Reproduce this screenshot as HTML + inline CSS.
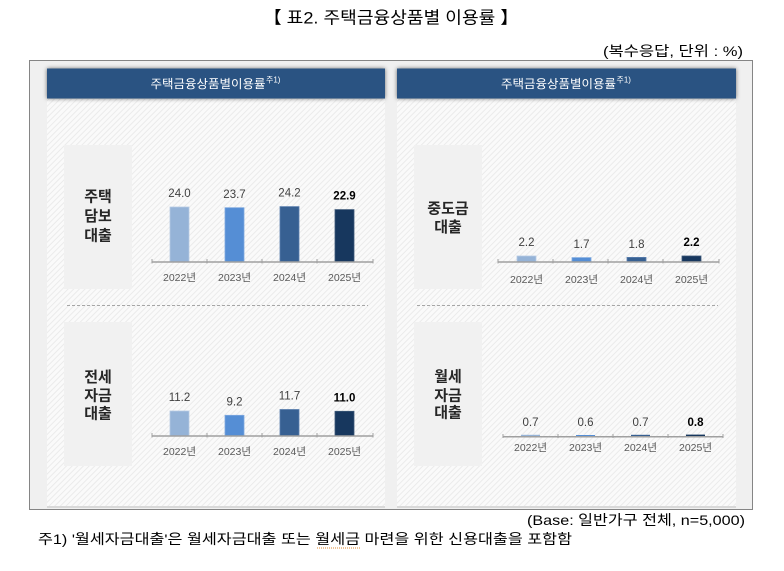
<!DOCTYPE html>
<html><head><meta charset="utf-8">
<style>
html,body{margin:0;padding:0;background:#fff;}
svg{display:block;}
text{font-family:"Liberation Sans","Noto Sans CJK KR",sans-serif;}
</style></head>
<body>
<svg width="784" height="571" viewBox="0 0 784 571" xmlns="http://www.w3.org/2000/svg">
<defs>
 <pattern id="h" width="4" height="4" patternUnits="userSpaceOnUse" patternTransform="rotate(45)">
  <rect width="4" height="4" fill="#fafafa"/>
  <line x1="0.5" y1="0" x2="0.5" y2="4" stroke="#ebebeb" stroke-width="1"/>
 </pattern>
 <filter id="sh" x="-5%" y="-40%" width="110%" height="180%">
  <feDropShadow dx="0" dy="0" stdDeviation="2" flood-color="#000" flood-opacity="0.55"/>
 </filter>
</defs>
<rect width="784" height="571" fill="#fff"/>

<!-- title -->
<text x="391" y="18" font-size="17" text-anchor="middle" dominant-baseline="central" fill="#000" textLength="255" lengthAdjust="spacingAndGlyphs">【 표2. 주택금융상품별 이용률 】</text>
<text x="743" y="51" font-size="14" text-anchor="end" dominant-baseline="central" fill="#000" textLength="140" lengthAdjust="spacingAndGlyphs">(복수응답, 단위 : %)</text>

<!-- outer box -->
<rect x="29.5" y="60.5" width="723" height="449" fill="#f0f0f0" stroke="#858585" stroke-width="1"/>

<!-- left panel -->
<rect x="47" y="99" width="338" height="407" fill="url(#h)"/>
<rect x="47" y="506" width="338" height="2" fill="#d9d9d9"/>
<rect x="47" y="68.5" width="338" height="30" fill="#2c5282" filter="url(#sh)"/>
<text x="150.5" y="84" font-size="12" fill="#fff" dominant-baseline="central" textLength="115" lengthAdjust="spacingAndGlyphs">주택금융상품별이용률</text>
<text x="266" y="80" font-size="8" fill="#fff" dominant-baseline="central">주1)</text>

<!-- right panel -->
<rect x="397" y="99" width="339" height="407" fill="url(#h)"/>
<rect x="397" y="506" width="339" height="2" fill="#d9d9d9"/>
<rect x="397" y="68.5" width="339" height="30" fill="#2c5282" filter="url(#sh)"/>
<text x="501" y="84" font-size="12" fill="#fff" dominant-baseline="central" textLength="115" lengthAdjust="spacingAndGlyphs">주택금융상품별이용률</text>
<text x="616.5" y="80" font-size="8" fill="#fff" dominant-baseline="central">주1)</text>

<!-- label boxes -->
<rect x="64" y="145" width="68" height="144" fill="#f1f1f1"/>
<rect x="64" y="322" width="68" height="144" fill="#f1f1f1"/>
<rect x="414" y="145" width="68" height="144" fill="#f1f1f1"/>
<rect x="414" y="322" width="68" height="144" fill="#f1f1f1"/>

<g font-size="15" font-weight="bold" fill="#262626" text-anchor="middle" dominant-baseline="central">
 <text x="98" y="197">주택</text>
 <text x="98" y="216.5">담보</text>
 <text x="98" y="236">대출</text>
 <text x="98" y="377.5">전세</text>
 <text x="98" y="396">자금</text>
 <text x="98" y="414">대출</text>
 <text x="448" y="209">중도금</text>
 <text x="448" y="227.5">대출</text>
 <text x="448" y="377">월세</text>
 <text x="448" y="396">자금</text>
 <text x="448" y="413">대출</text>
</g>

<!-- dashed separators -->
<line x1="67" y1="305.5" x2="368" y2="305.5" stroke="#a6a6a6" stroke-width="1" stroke-dasharray="3,2"/>
<line x1="417" y1="305.5" x2="718" y2="305.5" stroke="#a6a6a6" stroke-width="1" stroke-dasharray="3,2"/>

<!-- TOP LEFT chart -->
<g>
 <rect x="170" y="207" width="19" height="55" fill="#95b3d7" stroke="#b7cbe4" stroke-width="0.8"/>
 <rect x="225" y="207.7" width="19" height="54.3" fill="#558ed5" stroke="#7ea9df" stroke-width="0.8"/>
 <rect x="280" y="206.6" width="19" height="55.4" fill="#376092" stroke="#5a7fae" stroke-width="0.8"/>
 <rect x="335" y="209.6" width="19" height="52.4" fill="#17375e" stroke="#3c5878" stroke-width="0.8"/>
 <line x1="152" y1="262" x2="373" y2="262" stroke="#a0a0a0" stroke-width="1.5"/>
 <g stroke="#a0a0a0" stroke-width="1"><line x1="152" y1="259" x2="152" y2="263.5"/><line x1="207" y1="259" x2="207" y2="263.5"/><line x1="262" y1="259" x2="262" y2="263.5"/><line x1="317" y1="259" x2="317" y2="263.5"/><line x1="373" y1="259" x2="373" y2="263.5"/></g>
 <g font-size="11.5" text-anchor="middle" dominant-baseline="central" fill="#404040">
  <text x="179.5" y="194">24.0</text><text x="234.5" y="195">23.7</text><text x="289.5" y="193.5">24.2</text><text x="344.5" y="196.5" font-weight="bold" fill="#000">22.9</text>
 </g>
 <g font-size="10.5" text-anchor="middle" dominant-baseline="central" fill="#595959">
  <text x="179.5" y="278">2022년</text><text x="234.5" y="278">2023년</text><text x="289.5" y="278">2024년</text><text x="344.5" y="278">2025년</text>
 </g>
</g>

<!-- BOTTOM LEFT chart -->
<g>
 <rect x="170" y="411" width="19" height="25" fill="#95b3d7" stroke="#b7cbe4" stroke-width="0.8"/>
 <rect x="225" y="415.3" width="19" height="20.7" fill="#558ed5" stroke="#7ea9df" stroke-width="0.8"/>
 <rect x="280" y="409.5" width="19" height="26.5" fill="#376092" stroke="#5a7fae" stroke-width="0.8"/>
 <rect x="335" y="411.3" width="19" height="24.7" fill="#17375e" stroke="#3c5878" stroke-width="0.8"/>
 <line x1="152" y1="436" x2="373" y2="436" stroke="#a0a0a0" stroke-width="1.5"/>
 <g stroke="#a0a0a0" stroke-width="1"><line x1="152" y1="433" x2="152" y2="437.5"/><line x1="207" y1="433" x2="207" y2="437.5"/><line x1="262" y1="433" x2="262" y2="437.5"/><line x1="317" y1="433" x2="317" y2="437.5"/><line x1="373" y1="433" x2="373" y2="437.5"/></g>
 <g font-size="11.5" text-anchor="middle" dominant-baseline="central" fill="#404040">
  <text x="179.5" y="398">11.2</text><text x="234.5" y="402.5">9.2</text><text x="289.5" y="396.5">11.7</text><text x="344.5" y="398.5" font-weight="bold" fill="#000">11.0</text>
 </g>
 <g font-size="10.5" text-anchor="middle" dominant-baseline="central" fill="#595959">
  <text x="179.5" y="452">2022년</text><text x="234.5" y="452">2023년</text><text x="289.5" y="452">2024년</text><text x="344.5" y="452">2025년</text>
 </g>
</g>

<!-- TOP RIGHT chart -->
<g>
 <rect x="517" y="256" width="19" height="6" fill="#95b3d7" stroke="#b7cbe4" stroke-width="0.8"/>
 <rect x="572" y="257.6" width="19" height="4.4" fill="#558ed5" stroke="#7ea9df" stroke-width="0.8"/>
 <rect x="627" y="257.4" width="19" height="4.6" fill="#376092" stroke="#5a7fae" stroke-width="0.8"/>
 <rect x="682" y="256" width="19" height="6" fill="#17375e" stroke="#3c5878" stroke-width="0.8"/>
 <line x1="498" y1="262" x2="719" y2="262" stroke="#a0a0a0" stroke-width="1.5"/>
 <g stroke="#a0a0a0" stroke-width="1"><line x1="498" y1="259" x2="498" y2="263.5"/><line x1="553" y1="259" x2="553" y2="263.5"/><line x1="608" y1="259" x2="608" y2="263.5"/><line x1="663" y1="259" x2="663" y2="263.5"/><line x1="719" y1="259" x2="719" y2="263.5"/></g>
 <g font-size="11.5" text-anchor="middle" dominant-baseline="central" fill="#404040">
  <text x="526.5" y="243">2.2</text><text x="581.5" y="245">1.7</text><text x="636.5" y="245">1.8</text><text x="691.5" y="243" font-weight="bold" fill="#000">2.2</text>
 </g>
 <g font-size="10.5" text-anchor="middle" dominant-baseline="central" fill="#595959">
  <text x="526.5" y="280">2022년</text><text x="581.5" y="280">2023년</text><text x="636.5" y="280">2024년</text><text x="691.5" y="280">2025년</text>
 </g>
</g>

<!-- BOTTOM RIGHT chart -->
<g>
 <rect x="521" y="434.8" width="19" height="1.8" fill="#95b3d7"/>
 <rect x="576" y="435" width="19" height="1.6" fill="#558ed5"/>
 <rect x="631" y="434.8" width="19" height="1.8" fill="#376092"/>
 <rect x="686" y="434.6" width="19" height="2" fill="#17375e"/>
 <line x1="503" y1="436.8" x2="723" y2="436.8" stroke="#a0a0a0" stroke-width="1.5"/>
 <g stroke="#a0a0a0" stroke-width="1"><line x1="503" y1="434" x2="503" y2="438"/><line x1="558" y1="434" x2="558" y2="438"/><line x1="613" y1="434" x2="613" y2="438"/><line x1="668" y1="434" x2="668" y2="438"/><line x1="723" y1="434" x2="723" y2="438"/></g>
 <g font-size="11.5" text-anchor="middle" dominant-baseline="central" fill="#404040">
  <text x="530.5" y="423">0.7</text><text x="585.5" y="423">0.6</text><text x="640.5" y="423">0.7</text><text x="695.5" y="423" font-weight="bold" fill="#000">0.8</text>
 </g>
 <g font-size="10.5" text-anchor="middle" dominant-baseline="central" fill="#595959">
  <text x="530.5" y="448">2022년</text><text x="585.5" y="448">2023년</text><text x="640.5" y="448">2024년</text><text x="695.5" y="448">2025년</text>
 </g>
</g>

<!-- footnotes -->
<text x="745" y="520" font-size="14" text-anchor="end" dominant-baseline="central" fill="#000" textLength="218" lengthAdjust="spacingAndGlyphs">(Base: 일반가구 전체, n=5,000)</text>
<text x="38" y="539" font-size="14" dominant-baseline="central" fill="#000" textLength="534" lengthAdjust="spacingAndGlyphs">주1) '월세자금대출'은 월세자금대출 또는 월세금 마련을 위한 신용대출을 포함함</text>
<line x1="317" y1="548" x2="360" y2="548" stroke="#e08a2c" stroke-width="1" stroke-dasharray="1,1"/>
</svg>
</body></html>
